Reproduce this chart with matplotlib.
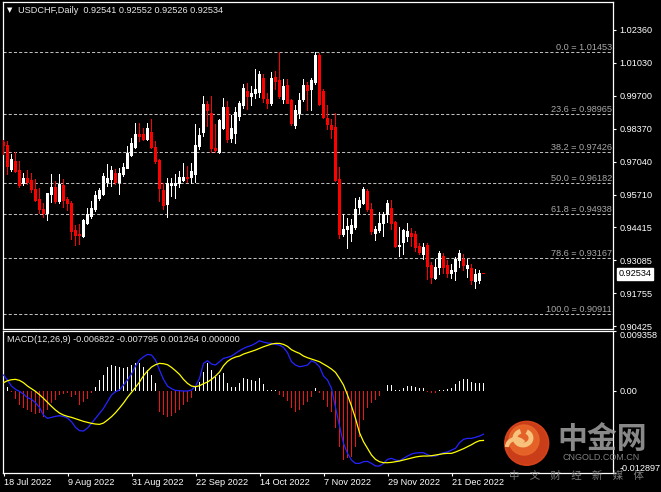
import matplotlib
matplotlib.use("Agg")
import matplotlib.pyplot as plt
import matplotlib.transforms as mtransforms
from matplotlib.patches import Circle, Arc
import numpy as np

plt.rcParams["font.family"] = ["Liberation Sans", "DejaVu Sans"]

# Données USDCHF, Daily
opens = [0.97816, 0.97683, 0.96717, 0.97051, 0.96677, 0.96154, 0.96383, 0.96275, 0.95912, 0.95510,
         0.95108, 0.94947, 0.95711, 0.96021, 0.95442, 0.96073, 0.95510, 0.95349, 0.94263, 0.94101,
         0.94033, 0.94572, 0.94838, 0.95108, 0.95550, 0.95711, 0.96222, 0.96315, 0.96584, 0.96222,
         0.96516, 0.96786, 0.97293, 0.97615, 0.98154, 0.98126, 0.97924, 0.98218, 0.97615, 0.97079,
         0.95872, 0.95309, 0.96073, 0.96101, 0.96154, 0.96287, 0.96423, 0.96423, 0.96516, 0.97655,
         0.98206, 0.99333, 0.98999, 0.97590, 0.97429, 0.98395, 0.99212, 0.97965, 0.98194, 0.98862,
         0.99305, 0.99868, 0.99667, 0.99775, 0.99828, 1.00407, 0.99534, 0.99373, 1.00447, 1.00311,
         0.99562, 1.00097, 0.99494, 0.98488, 0.98999, 0.99534, 1.00097, 0.99965, 1.00230, 1.01305,
         0.99868, 0.98798, 0.98488, 0.98435, 0.96343, 0.94102, 0.94331, 0.94170, 0.94411, 0.95216,
         0.95377, 0.95844, 0.95136, 0.94170, 0.94275, 0.94572, 0.94906, 0.95176, 0.94597, 0.93631,
         0.93792, 0.94033, 0.94142, 0.94102, 0.93631, 0.93297, 0.93659, 0.92854, 0.92359, 0.92802,
         0.93228, 0.92854, 0.92532, 0.92625, 0.93067, 0.93096, 0.92762, 0.92762, 0.92222, 0.92263,
         0.92541]
highs = [0.97896, 0.97856, 0.97321, 0.97401, 0.97051, 0.96584, 0.96677, 0.96584, 0.96315, 0.95953,
         0.95349, 0.95770, 0.96516, 0.96246, 0.96516, 0.96343, 0.95619, 0.95442, 0.94464, 0.94504,
         0.94705, 0.95148, 0.95442, 0.95844, 0.95981, 0.96584, 0.96918, 0.96850, 0.96717, 0.96757,
         0.96987, 0.97655, 0.97993, 0.98596, 0.98596, 0.98395, 0.98596, 0.98729, 0.97856, 0.97120,
         0.96182, 0.96355, 0.96383, 0.96516, 0.96649, 0.96959, 0.96850, 0.96987, 0.98528, 0.98395,
         0.99655, 0.99466, 0.99655, 0.98556, 0.98729, 0.99602, 0.99466, 0.98902, 0.99224, 0.99466,
         1.00138, 1.00206, 1.00069, 1.00741, 1.00673, 1.00540, 0.99804, 1.00633, 1.00673, 1.01440,
         1.00339, 1.00339, 0.99562, 0.99293, 0.99804, 1.00339, 1.00230, 1.00407, 1.01453, 1.01413,
         0.99965, 0.99293, 0.98757, 0.98999, 0.96826, 0.94906, 0.94774, 0.94705, 0.95578, 0.95619,
         0.96021, 0.95912, 0.95349, 0.94436, 0.94999, 0.94999, 0.95482, 0.95482, 0.94637, 0.94411,
         0.94331, 0.94572, 0.94371, 0.94234, 0.93768, 0.93768, 0.93768, 0.92987, 0.93096, 0.93430,
         0.93365, 0.93067, 0.92894, 0.93204, 0.93458, 0.93297, 0.93096, 0.92894, 0.92693, 0.92665,
         0.92552]
lows = [0.97321, 0.96516, 0.96649, 0.96597, 0.95993, 0.96073, 0.96114, 0.95804, 0.95442, 0.94975,
        0.94814, 0.94677, 0.95401, 0.95377, 0.95349, 0.95216, 0.95079, 0.93900, 0.93659, 0.93699,
        0.94009, 0.94504, 0.94745, 0.95039, 0.95470, 0.95683, 0.96045, 0.96045, 0.96114, 0.95739,
        0.96448, 0.96757, 0.97252, 0.97590, 0.97856, 0.97884, 0.97884, 0.97590, 0.96987, 0.95442,
        0.95108, 0.94814, 0.95643, 0.95578, 0.96021, 0.96246, 0.96206, 0.96182, 0.96206, 0.97522,
        0.98045, 0.98460, 0.97429, 0.97413, 0.97361, 0.98327, 0.97824, 0.97832, 0.97792, 0.98689,
        0.99200, 0.99132, 0.99293, 0.99602, 0.99643, 0.99425, 0.99200, 0.99293, 0.99936, 0.99602,
        0.99401, 0.99373, 0.98488, 0.98395, 0.98798, 0.99466, 0.99103, 0.99103, 1.00138, 0.99293,
        0.98798, 0.98355, 0.97993, 0.96246, 0.93969, 0.94033, 0.93566, 0.93832, 0.94331, 0.94947,
        0.95309, 0.95039, 0.94102, 0.93872, 0.94194, 0.94033, 0.94597, 0.94331, 0.93607, 0.93228,
        0.93297, 0.93832, 0.93631, 0.93430, 0.93297, 0.93096, 0.92319, 0.92130, 0.92291, 0.92492,
        0.92560, 0.92399, 0.92359, 0.92263, 0.92802, 0.92653, 0.92399, 0.92090, 0.91957, 0.92130,
        0.92526]
closes = [0.97683, 0.96850, 0.97120, 0.96649, 0.96073, 0.96383, 0.96206, 0.95912, 0.95470, 0.95108,
          0.94947, 0.95751, 0.96021, 0.95442, 0.96114, 0.95482, 0.95349, 0.94234, 0.94061, 0.94061,
          0.94677, 0.94906, 0.95148, 0.95683, 0.95872, 0.96448, 0.96383, 0.96677, 0.96222, 0.96584,
          0.96810, 0.97389, 0.97792, 0.98154, 0.98057, 0.97924, 0.98367, 0.97615, 0.97051, 0.95981,
          0.95281, 0.96182, 0.96182, 0.96182, 0.96423, 0.96423, 0.96383, 0.96649, 0.97683, 0.98085,
          0.99333, 0.99091, 0.97562, 0.97510, 0.98689, 0.99212, 0.97924, 0.98367, 0.99039, 0.99401,
          0.99977, 0.99667, 0.99775, 0.99965, 1.00540, 0.99602, 0.99373, 1.00407, 1.00270, 0.99667,
          1.00069, 0.99401, 0.98568, 0.99103, 0.99506, 1.00097, 0.99908, 1.00311, 1.01305, 0.99333,
          0.98838, 0.98528, 0.98355, 0.96287, 0.94102, 0.94303, 0.94436, 0.94464, 0.95108, 0.95482,
          0.95912, 0.95108, 0.94234, 0.94331, 0.94572, 0.94906, 0.95377, 0.94544, 0.93631, 0.93659,
          0.94275, 0.94234, 0.94033, 0.93607, 0.93389, 0.93607, 0.92826, 0.92399, 0.92802, 0.93337,
          0.92802, 0.92532, 0.92665, 0.93096, 0.93337, 0.92854, 0.92854, 0.92263, 0.92492, 0.92532,
          0.92534]

# MACD(12,26,9) : ligne principale, signal, histogramme
macd_main = [0.002455, 0.001671, 0.000731, 0.000209, -0.000104, -0.000522, -0.001097, -0.001358, -0.001880, -0.002612,
             -0.003813, -0.004335, -0.004178, -0.004022, -0.003917, -0.004022, -0.004283, -0.004857, -0.005745, -0.006268,
             -0.006320, -0.005850, -0.005119, -0.004335, -0.003552, -0.002768, -0.001724, -0.000679, -0.000157, 0.000104,
             0.000888, 0.001671, 0.002612, 0.003865, 0.004805, 0.005327, 0.005693, 0.005589, 0.004805, 0.003238,
             0.001776, 0.000731, 0.000313, 0.000052, 0.0, -0.000052, -0.000052, 0.000104, 0.000731, 0.001933,
             0.004283, 0.004701, 0.004178, 0.004022, 0.004544, 0.005066, 0.005223, 0.005432, 0.005850, 0.006268,
             0.006633, 0.006894, 0.007103, 0.007417, 0.007835, 0.007626, 0.007469, 0.007417, 0.007260, 0.007156,
             0.006790, 0.005954, 0.004544, 0.004022, 0.003761, 0.003865, 0.004022, 0.004701, 0.004387, 0.003761,
             0.002298, 0.001671, 0.000366, -0.002612, -0.005536, -0.008252, -0.009819, -0.010864, -0.011386, -0.011386,
             -0.011125, -0.011073, -0.011386, -0.011804, -0.011804, -0.011386, -0.010759, -0.010603, -0.010864, -0.010968,
             -0.010603, -0.010237, -0.009924, -0.009767, -0.009715, -0.009715, -0.010028, -0.010237, -0.010237, -0.009976,
             -0.009715, -0.009610, -0.009297, -0.009036, -0.008148, -0.007626, -0.007469, -0.007469, -0.007312, -0.007103,
             -0.006822]
macd_signal = [0.001254, 0.001567, 0.001724, 0.001776, 0.001619, 0.001254, 0.000731, 0.000313, -0.000104, -0.000627,
               -0.001201, -0.001828, -0.002455, -0.003029, -0.003499, -0.003813, -0.004022, -0.004178, -0.004387, -0.004596,
               -0.004805, -0.004962, -0.005119, -0.005223, -0.005275, -0.005066, -0.004596, -0.004074, -0.003447, -0.002716,
               -0.001933, -0.001045, -0.000261, 0.000522, 0.001358, 0.002350, 0.003082, 0.003708, 0.004074, 0.004283,
               0.004231, 0.004074, 0.003656, 0.003134, 0.002559, 0.001776, 0.001149, 0.000731, 0.000627, 0.000783,
               0.001097, 0.001358, 0.001776, 0.002298, 0.002925, 0.003917, 0.004596, 0.005014, 0.005275, 0.005432,
               0.005745, 0.005954, 0.006163, 0.006372, 0.006633, 0.006894, 0.007103, 0.007312, 0.007417, 0.007417,
               0.007260, 0.006947, 0.006424, 0.006111, 0.005850, 0.005432, 0.005171, 0.004962, 0.004753, 0.004544,
               0.004178, 0.003813, 0.003395, 0.002873, 0.001933, 0.000888, -0.000679, -0.002403, -0.004335, -0.006581,
               -0.007991, -0.009036, -0.010080, -0.010759, -0.011125, -0.011282, -0.011282, -0.011229, -0.011125, -0.011021,
               -0.010864, -0.010707, -0.010550, -0.010394, -0.010289, -0.010237, -0.010237, -0.010185, -0.010080, -0.009976,
               -0.009871, -0.009819, -0.009819, -0.009610, -0.009349, -0.009088, -0.008775, -0.008461, -0.008096, -0.007835,
               -0.007795]
macd_hist = [0.002089, 0.000627, -0.000157, -0.001358, -0.002246, -0.002768, -0.003029, -0.003290, -0.003656, -0.003552,
             -0.004074, -0.003029, -0.001985, -0.001462, -0.000679, -0.000522, -0.000418, -0.001045, -0.000679, -0.002246,
             -0.001724, -0.001358, -0.000418, 0.000627, 0.001671, 0.002455, 0.003656, 0.004022, 0.003865, 0.003761,
             0.003604, 0.003761, 0.004022, 0.004283, 0.004283, 0.003761, 0.003238, 0.002455, 0.001149, -0.003290,
             -0.003813, -0.004074, -0.003969, -0.003552, -0.003029, -0.002246, -0.001724, -0.001201, 0.000627, 0.001410,
             0.002977, 0.004387, 0.003238, 0.002089, 0.002455, 0.002716, 0.001149, 0.000627, 0.000627, 0.001149,
             0.001933, 0.001776, 0.001671, 0.001567, 0.001933, 0.001045, 0.000104, 0.000104, 0.000104, -0.000679,
             -0.000940, -0.001567, -0.002768, -0.003290, -0.003029, -0.002246, -0.001724, -0.001045, 0.000366, -0.000418,
             -0.001462, -0.002507, -0.003290, -0.005902, -0.008775, -0.010864, -0.010603, -0.010342, -0.008775, -0.007208,
             -0.004596, -0.002768, -0.001985, -0.001462, -0.000836, -0.000052, 0.000888, 0.000888, 0.000104, 0.000104,
             0.000366, 0.000783, 0.000731, 0.000627, 0.000470, 0.000366, -0.000261, -0.000418, -0.000313, 0.000104,
             0.000104, 0.000209, 0.000366, 0.001045, 0.001567, 0.001776, 0.001776, 0.001410, 0.001149, 0.001149,
             0.001264]

# Niveaux de Fibonacci
fib_ratios = ["0.0", "23.6", "38.2", "50.0", "61.8", "78.6", "100.0"]
fib_prices = [1.01453, 0.98965, 0.97426, 0.96182, 0.94938, 0.93167, 0.90911]

price_ticks = [1.02360, 1.01030, 0.99700, 0.98370, 0.97040, 0.95710, 0.94415, 0.93085, 0.91755, 0.90425]
macd_ticks = [0.009358, 0.0, -0.012897]
macd_tick_labels = ["0.009358", "0.00", "-0.012897"]
date_idx = [0, 16, 32, 48, 64, 80, 96, 112]
date_labels = ["18 Jul 2022", "9 Aug 2022", "31 Aug 2022", "22 Sep 2022",
               "14 Oct 2022", "7 Nov 2022", "29 Nov 2022", "21 Dec 2022"]

title = "USDCHF,Daily  0.92541 0.92552 0.92526 0.92534"
macd_title = "MACD(12,26,9) -0.006822 -0.007795 0.001264 0.000000"
last_price = 0.92534

# ~~~~~~~~~~

fs = 6.6
bear = "#ff0000"
W, H = 661, 492
fig = plt.figure(figsize=(W / 100, H / 100), dpi=100, facecolor="black")
# Axes alignés sur des pixels entiers (4 px par bougie)
ax = fig.add_axes([3 / W, 163 / H, 610 / W, 327 / H], facecolor="black")
ax2 = fig.add_axes([3 / W, 19 / H, 610 / W, 142 / H], facecolor="black")
xlim = (-0.125, 152.375)

x = np.arange(len(closes))
o = np.array(opens)
c = np.array(closes)
hi = np.array(highs)
lo = np.array(lows)
cols = ["white" if cc >= oo else bear for oo, cc in zip(o, c)]

# Bougies : mèches = barres d'un pixel de large, sans anticrénelage
ax.bar(x, hi - lo, bottom=lo, width=0.25, color=cols, linewidth=0, zorder=3,
       antialiased=False, snap=False)
ax.bar(x, np.maximum(np.abs(c - o), 0.00025), bottom=np.minimum(o, c), width=0.75,
       color=cols, linewidth=0, zorder=4, antialiased=False, snap=False)

# Fibonacci
for r, p in zip(fib_ratios, fib_prices):
    ax.axhline(p, color="#bcbcbc", linewidth=0.75, linestyle=(0, (3, 2)), zorder=1)
    ax.text(0.998, p, "%s = %.5f" % (r, p), transform=ax.get_yaxis_transform(),
            ha="right", va="bottom", color="#a8a8a8", fontsize=fs)

ax.set_xlim(*xlim)
ax.set_ylim(0.90307, 1.03478)
ax.set_xticks([])
ax.yaxis.tick_right()
ax.set_yticks(price_ticks)
ax.set_yticklabels(["%.5f" % t for t in price_ticks])
ax.tick_params(axis="y", colors="white", labelsize=fs, length=2.2, width=0.8, pad=2.5)

# Prix courant
trans = mtransforms.offset_copy(ax.get_yaxis_transform(), fig=fig, x=4, y=0, units="points")
ax.text(1.0, last_price, "%.5f" % last_price, transform=trans, ha="left", va="center",
        color="black", fontsize=fs, bbox=dict(facecolor="white", edgecolor="white", pad=1.2))

ax.text(0.006, 0.985, "\u25bc", transform=ax.transAxes, ha="left", va="top",
        color="white", fontsize=5, family="DejaVu Sans")
ax.text(0.025, 0.988, title, transform=ax.transAxes, ha="left", va="top",
        color="#e8e8e8", fontsize=fs)

# MACD : histogramme en barres fines
hcols = ["white" if h >= 0 else "#f01414" for h in macd_hist]
ax2.bar(x, macd_hist, width=0.42, color=hcols, linewidth=0, zorder=2)
ax2.plot(x, macd_main, color="#2424ff", linewidth=0.9, zorder=3)
ax2.plot(x, macd_signal, color="#ffff00", linewidth=0.9, zorder=3)
ax2.set_xlim(*xlim)
ax2.set_ylim(-0.012897, 0.009358)
ax2.yaxis.tick_right()
ax2.set_yticks(macd_ticks)
ax2.set_yticklabels(macd_tick_labels)
lbls = ax2.get_yticklabels()
lbls[0].set_va("top")
lbls[2].set_va("bottom")
ax2.tick_params(axis="y", colors="white", labelsize=fs, length=2.2, width=0.8, pad=2.5)
ax2.set_xticks(date_idx)
ax2.set_xticklabels(date_labels)
for t in ax2.get_xticklabels():
    t.set_ha("left")
ax2.tick_params(axis="x", colors="white", labelsize=fs, length=2.5, width=0.8, pad=1)
ax2.text(0.007, 0.97, macd_title, transform=ax2.transAxes, ha="left", va="top",
         color="#e8e8e8", fontsize=fs)

for a in (ax, ax2):
    for s in a.spines.values():
        s.set_color("white")
        s.set_linewidth(0.9)

# Filigrane
wm = fig.add_axes([0, 0, 1, 1], facecolor="none", zorder=10)
wm.set_xlim(0, W)
wm.set_ylim(H, 0)
wm.axis("off")
wm.add_patch(Circle((526.7, 443.3), 22, color="#e0461c", alpha=0.9))
wm.add_patch(Circle((524, 440), 15, color="#ec6a2c", alpha=0.8))
wm.add_patch(Arc((523, 438), 16, 14, theta1=-60, theta2=250, color="#f6c27c", linewidth=3.5))
wm.add_patch(Arc((516, 447), 18, 16, theta1=180, theta2=330, color="#f6c27c", linewidth=3))
wm.text(601.7, 439, "中金网", ha="center", va="center", fontsize=21.5, fontweight="bold",
        color="#a2a2a2", alpha=0.85, family=["Noto Sans CJK SC"])
wm.text(601, 457.5, "CNGOLD.COM.CN", ha="center", va="center", fontsize=6.5,
        color="#8e8e8e", alpha=0.9)
wm.text(576, 475.5, "中\u3000文\u3000财\u3000经\u3000新\u3000媒\u3000体", ha="center", va="center",
        fontsize=7.5, color="#8a8a8a", alpha=0.9, family=["Noto Sans CJK SC"])

fig.savefig("out.png", dpi=100, facecolor="black")
